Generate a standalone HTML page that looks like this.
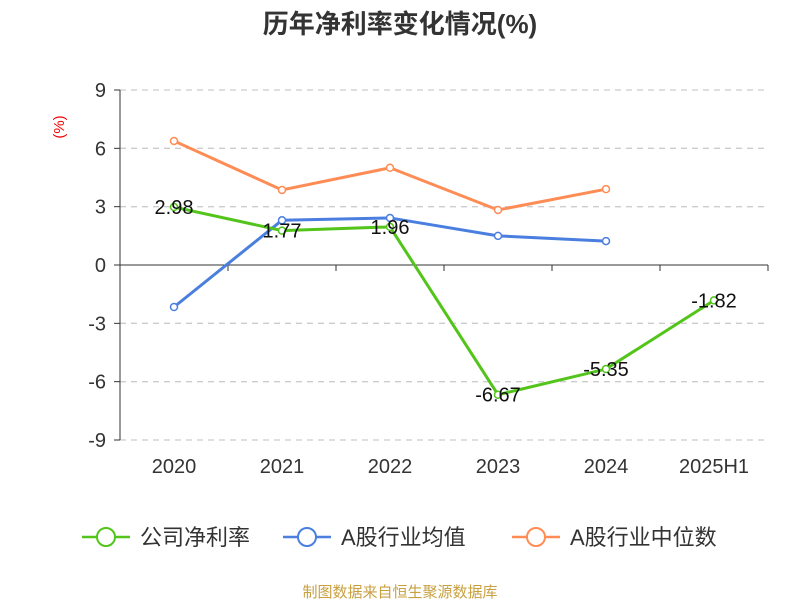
<!DOCTYPE html>
<html><head><meta charset="utf-8"><style>
body{margin:0;background:#fff;}
svg{display:block;font-family:"Liberation Sans","Noto Sans CJK SC",sans-serif;}
</style></head><body>
<svg id="chart" width="800" height="600" viewBox="0 0 800 600" xmlns="http://www.w3.org/2000/svg">
<text x="400" y="33" text-anchor="middle" font-size="26" font-weight="bold" fill="#333">历年净利率变化情况(%)</text>
<text x="64" y="127" font-size="15" fill="#e00" text-anchor="middle" transform="rotate(-90 64 127)">(%)</text>
<g id="grid"></g><g id="axes"></g><g id="series"></g>
<g>
 <g><line x1="82" y1="537" x2="130" y2="537" stroke="#52c41a" stroke-width="2.5"/><circle cx="106" cy="537" r="9" fill="#fff" stroke="#52c41a" stroke-width="2"/><text x="140" y="545" font-size="22" fill="#333">公司净利率</text></g>
 <g><line x1="283" y1="537" x2="331" y2="537" stroke="#4a7fe0" stroke-width="2.5"/><circle cx="307" cy="537" r="9" fill="#fff" stroke="#4a7fe0" stroke-width="2"/><text x="341" y="545" font-size="22" fill="#333">A股行业均值</text></g>
 <g><line x1="512" y1="537" x2="560" y2="537" stroke="#ff8c55" stroke-width="2.5"/><circle cx="536" cy="537" r="9" fill="#fff" stroke="#ff8c55" stroke-width="2"/><text x="570" y="545" font-size="22" fill="#333">A股行业中位数</text></g>
</g>
<text x="400" y="597" text-anchor="middle" font-size="15" fill="#c8a040">制图数据来自恒生聚源数据库</text>
</svg>
<script>
const categories=["2020","2021","2022","2023","2024","2025H1"];
const yTicks=[9,6,3,0,-3,-6,-9];
const companyValues=[2.98,1.77,1.96,-6.67,-5.35,-1.82];
const meanValues=[-2.16,2.3,2.42,1.5,1.23,null];
const medianValues=[6.38,3.86,5.0,2.83,3.9,null];
const NS="http://www.w3.org/2000/svg";
const x0=120,x1=768,yTop=90,yBot=440;
const band=(x1-x0)/categories.length;
function xs(i){return x0+band*(i+0.5);}
function ys(v){return yTop+(9-v)*(yBot-yTop)/18;}
function mk(tag,attrs,parent,text){const e=document.createElementNS(NS,tag);for(const k in attrs)e.setAttribute(k,attrs[k]);if(text!=null)e.textContent=text;parent.appendChild(e);return e;}
const grid=document.getElementById('grid'),axes=document.getElementById('axes'),ser=document.getElementById('series');
yTicks.forEach(t=>{
 if(t!==0){const l=mk('line',{x1:x0,x2:x1,y1:ys(t),y2:ys(t),stroke:'#ccc','stroke-dasharray':'6,5','stroke-width':1.3},grid);
 
 }
 const tk=mk('line',{x1:x0-6,x2:x0,y1:ys(t),y2:ys(t),stroke:'#333'},axes);
 
 
 const tx=mk('text',{x:x0-14,y:ys(t)+7,'text-anchor':'end','font-size':20,fill:'#333'},axes,String(t));
 
 
});
const ya=mk('line',{x1:x0,x2:x0,y1:yTop,y2:yBot,stroke:'#333'},axes);


const xa=mk('line',{x1:x0,x2:x1,y1:ys(0),y2:ys(0),stroke:'#333'},axes);


for(let i=0;i<=categories.length;i++){const t=mk('line',{x1:x0+band*i,x2:x0+band*i,y1:ys(0),y2:ys(0)+6,stroke:'#333'},axes);
 
 }
categories.forEach((c,i)=>{const t=mk('text',{x:xs(i),y:473,'text-anchor':'middle','font-size':20,fill:'#333'},axes,c);
 
 });
function draw(vals,color,name,labels){
 const pts=[];vals.forEach((v,i)=>{if(v!=null)pts.push([xs(i),ys(v),v]);});
 const p=mk('polyline',{points:pts.map(q=>q[0]+','+q[1]).join(' '),fill:'none',stroke:color,'stroke-width':3},ser);
 
 
 pts.forEach(q=>{const c=mk('circle',{cx:q[0],cy:q[1],r:3.5,fill:'#fff',stroke:color,'stroke-width':1.5},ser);
  
  
  if(labels){const t=mk('text',{x:q[0],y:q[1]+7,'text-anchor':'middle','font-size':20,fill:'#111'},ser,q[2].toFixed(2));
  
  }});
}
draw(medianValues,'#ff8c55','industry-median',false);
draw(meanValues,'#4a7fe0','industry-mean',false);
draw(companyValues,'#52c41a','company',true);
</script>
</body></html>
